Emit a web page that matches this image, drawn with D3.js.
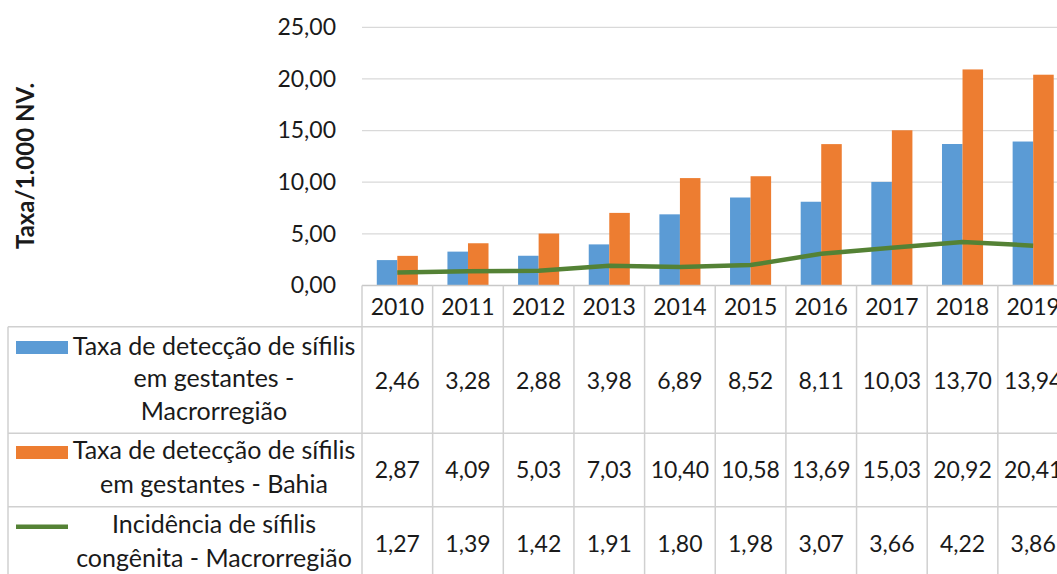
<!DOCTYPE html>
<html><head><meta charset="utf-8">
<script src="https://cdn.jsdelivr.net/npm/d3@7/dist/d3.min.js"></script>
<style>
html,body{margin:0;padding:0;background:#fff;overflow:hidden;}
svg{display:block;font-family:Lato,"Open Sans",sans-serif;}
</style></head>
<body>
<svg id="c" width="1057" height="574"></svg>
<script>
const years = ["2010","2011","2012","2013","2014","2015","2016","2017","2018","2019"];
const macroGestantes = [2.46,3.28,2.88,3.98,6.89,8.52,8.11,10.03,13.70,13.94];
const bahiaGestantes = [2.87,4.09,5.03,7.03,10.40,10.58,13.69,15.03,20.92,20.41];
const macroCongenita = [1.27,1.39,1.42,1.91,1.80,1.98,3.07,3.66,4.22,3.86];
const yTicks = [0,5,10,15,20,25];
const seriesNames = [
  ["Taxa de detecção de sífilis","em gestantes -","Macrorregião"],
  ["Taxa de detecção de sífilis","em gestantes - Bahia"],
  ["Incidência de sífilis","congênita - Macrorregião"]
];
const colors = ["#5b9bd5","#ed7d31","#548235"];

const fmt = v => d3.format(".2f")(v).replace(".", ",");
const svg = d3.select("#c");

const plotLeft = 362, colW = 70.65;
const x = d3.scaleBand().domain(years).range([plotLeft, plotLeft + colW*years.length]).padding(0);
const xb = d3.scaleBand().domain([0,1]).range([0, x.bandwidth()]).paddingInner(0).paddingOuter(0.72);
const y = d3.scaleLinear().domain([0,25]).range([285.5, 27.3]);

// gridlines
svg.append("g").selectAll("line").data(yTicks.filter(t=>t>0)).join("line")
  .attr("x1", plotLeft).attr("x2", 1057)
  .attr("y1", d=>y(d)).attr("y2", d=>y(d))
  .attr("stroke","#d9d9d9").attr("stroke-width",1.3);

// y axis labels
const yAxis = d3.axisLeft(y).tickValues(yTicks).tickFormat(fmt).tickSize(0).tickPadding(0);
const ga = svg.append("g").attr("transform","translate(336,0)").call(yAxis);
ga.select(".domain").remove();
ga.selectAll("text").attr("font-family","Lato, 'Open Sans', sans-serif").attr("font-size",23).attr("fill","#1a1a1a");

// y title
svg.append("text").attr("transform","translate(33.5,166) rotate(-90)")
  .attr("text-anchor","middle").attr("font-size",24).attr("font-weight","bold").attr("fill","#1a1a1a")
  .text("Taxa/1.000 NV.");

// bars
const bars = svg.append("g");
[macroGestantes, bahiaGestantes].forEach((arr, si) => {
  bars.selectAll(".b"+si).data(arr).join("rect")
    .attr("x",(d,i)=>x(years[i])+xb(si)).attr("width",xb.bandwidth())
    .attr("y",d=>y(d)).attr("height",d=>y(0)-y(d)).attr("fill",colors[si]);
});

// line
const line = d3.line().x((d,i)=>x(years[i])+x.bandwidth()/2).y(d=>y(d));
svg.append("path").datum(macroCongenita).attr("d",line)
  .attr("fill","none").attr("stroke",colors[2]).attr("stroke-width",4.5).attr("stroke-linejoin","round");

// table
const rowTops = [285.5, 326.7, 433.3, 506.7, 600];
const tableLeft = 8;
const grid = svg.append("g").attr("stroke","#d0d0d0").attr("stroke-width",1.5);
grid.append("line").attr("x1",plotLeft).attr("x2",1057).attr("y1",rowTops[0]).attr("y2",rowTops[0]).attr("stroke","#c8c8c8");
[1,2,3].forEach(r=>grid.append("line").attr("x1",tableLeft).attr("x2",1057).attr("y1",rowTops[r]).attr("y2",rowTops[r]));
grid.append("line").attr("x1",tableLeft).attr("x2",tableLeft).attr("y1",rowTops[1]).attr("y2",600);
grid.selectAll(".v").data(years.concat(["end"])).join("line")
  .attr("x1",(d,i)=>plotLeft+i*colW).attr("x2",(d,i)=>plotLeft+i*colW)
  .attr("y1",rowTops[0]).attr("y2",600);

// year labels
svg.append("g").selectAll("text").data(years).join("text")
  .attr("x",d=>x(d)+x.bandwidth()/2).attr("y",314.5).attr("text-anchor","middle")
  .attr("font-size",23).attr("fill","#1a1a1a").text(d=>d);

// values
const rowCenters = [388.5, 478, 552];
[macroGestantes, bahiaGestantes, macroCongenita].forEach((arr, si)=>{
  svg.append("g").selectAll("text").data(arr).join("text")
    .attr("x",(d,i)=>x(years[i])+x.bandwidth()/2).attr("y",rowCenters[si]).attr("text-anchor","middle")
    .attr("font-size",23).attr("fill","#1a1a1a").text(d=>fmt(d));
});

// legend cells
const legBase = [[355,387,420],[459,493],[533,567]];
seriesNames.forEach((lines, si)=>{
  lines.forEach((t, li)=>{
    svg.append("text").attr("x",214).attr("y",legBase[si][li]).attr("text-anchor","middle")
      .attr("font-size",25).attr("fill","#1a1a1a").text(t);
  });
});
svg.append("rect").attr("x",16).attr("y",341).attr("width",52).attr("height",13).attr("fill",colors[0]);
svg.append("rect").attr("x",16).attr("y",446).attr("width",52).attr("height",13).attr("fill",colors[1]);
svg.append("line").attr("x1",16).attr("x2",68).attr("y1",526.7).attr("y2",526.7).attr("stroke",colors[2]).attr("stroke-width",4.5);
</script>
</body></html>
